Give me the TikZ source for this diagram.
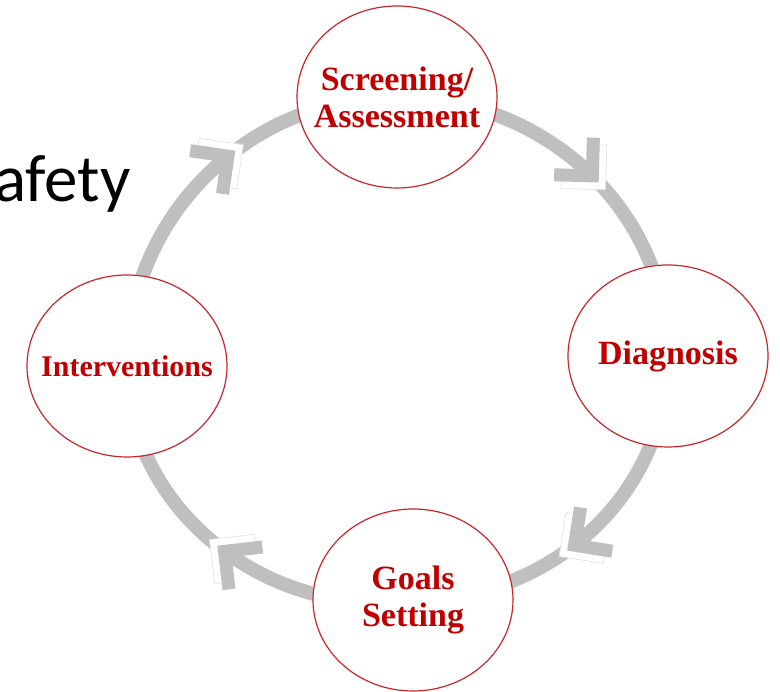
\documentclass[tikz,border=0pt]{standalone}
\usepackage{fontspec}
\setmainfont{Liberation Serif}
\newfontfamily\slidefont{Carlito}
\usetikzlibrary{positioning,shapes.geometric,decorations.markings,backgrounds}
\definecolor{ringgray}{HTML}{BFBFBF}
\definecolor{stagered}{HTML}{C00000}
\definecolor{rimred}{HTML}{C8262B}

% chevron head with its white offset patch
\newcommand{\turnarrow}{%
  \filldraw[fill=white, draw=black!12, line width=0.6pt]
    (10.2pt,0pt) -- (-21.4pt,31.6pt) -- (-30.6pt,22.4pt) -- (-8.2pt,0pt)
    -- (-30.6pt,-22.4pt) -- (-21.4pt,-31.6pt) -- cycle;
  \draw[ringgray, line width=13pt, line cap=butt, miter limit=10]
    (-36pt,27pt) -- (-9pt,0pt) -- (-36pt,-27pt);
}

\begin{document}
\begin{tikzpicture}[x=1pt,y=1pt,on grid,
  stage/.style={ellipse, draw=rimred, line width=1.2pt, fill=white,
    minimum width=200pt, minimum height=182pt, inner xsep=-30pt,
    inner ysep=0pt, align=center, text=stagered,
    font=\bfseries\fontsize{34}{37}\selectfont},
  ring/.style={draw=ringgray, line width=14pt,
    postaction={decorate, decoration={markings,
      mark=at position #1 with {\turnarrow}}}}]
  \useasboundingbox (0,0) rectangle (780,692);

  \node[anchor=base west, inner sep=0pt,
    font=\slidefont\fontsize{67}{78}\selectfont] (title) at (-6,490) {afety};

  \node[stage] (scr) at (397,595) {Screening/\\Assessment};
  \node[stage] (diag) [below right=259pt and 271pt of scr] {Diagnosis};
  \node[stage] (goal) [below left=244pt and 255pt of diag] {Goals\\Setting};
  \node[stage, font=\bfseries\fontsize{30}{36}\selectfont] (intv)
    [above left=234pt and 286pt of goal] {Interventions};

  \begin{scope}[on background layer]
    \path
    (scr.center) edge [ring=0.54, out=0, in=90] (diag.center)
    (diag.center) edge [ring=0.58, out=-90, in=0] (goal.center)
    (goal.center) edge [ring=0.5, out=188, in=-90] (intv.center)
    (intv.center) edge [ring=0.59, out=90, in=180] (scr.center)
    ;
  \end{scope}
\end{tikzpicture}
\end{document}
